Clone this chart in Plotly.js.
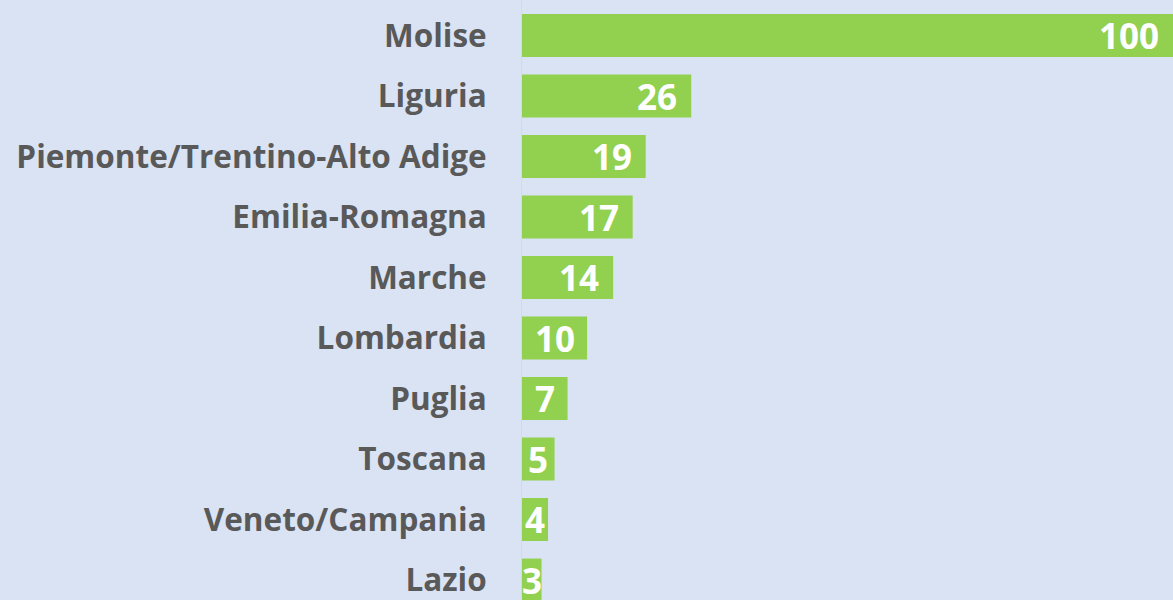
<!DOCTYPE html>
<html>
<head>
<meta charset="utf-8">
<script src="https://cdn.plot.ly/plotly-3.0.1.min.js"></script>
<style>
html,body{margin:0;padding:0;background:#DAE3F3;}
#chart{width:1173px;height:600px;}
</style>
</head>
<body>
<div id="chart"></div>
<script>
const regions = ["Molise","Liguria","Piemonte/Trentino-Alto Adige","Emilia-Romagna","Marche","Lombardia","Puglia","Toscana","Veneto/Campania","Lazio"];
const values = [100,26,19,17,14,10,7,5,4,3];

const trace = {
  type: 'bar',
  orientation: 'h',
  y: regions,
  x: values,
  marker: {color: '#92D050'},
  hoverinfo: 'none'
};

// value labels: inside end with an inset, centred when the bar is too short
const labelFont = {family: 'Open Sans', size: 35, color: '#FFFFFF', weight: 'bold'};
const annotations = values.map((v, i) => {
  const small = v <= 10;
  return {
    x: small ? v / 2 : v,
    y: regions[i],
    xref: 'x', yref: 'y',
    text: String(v),
    showarrow: false,
    xanchor: small ? 'center' : 'right',
    yanchor: 'middle',
    xshift: small ? 0 : -12,
    yshift: 0,
    font: labelFont
  };
});

const layout = {
  width: 1173,
  height: 600,
  margin: {l: 522, r: 0, t: 0, b: 0, pad: 0},
  paper_bgcolor: '#DAE3F3',
  plot_bgcolor: '#DAE3F3',
  bargap: 0.29,
  xaxis: {range: [0, 100], showticklabels: false, showgrid: false, zeroline: false, showline: false, fixedrange: true},
  yaxis: {
    type: 'category',
    range: [9.33, -0.587],
    showline: true, linecolor: '#D9D9D9', linewidth: 1,
    ticks: '', showgrid: false, zeroline: false,
    ticklabelstandoff: 28,
    tickfont: {family: 'Open Sans', size: 31.5, color: '#595959', weight: 'bold'}
  },
  annotations: annotations,
  showlegend: false
};

Plotly.newPlot('chart', [trace], layout, {displayModeBar: false, staticPlot: true});
</script>
</body>
</html>
